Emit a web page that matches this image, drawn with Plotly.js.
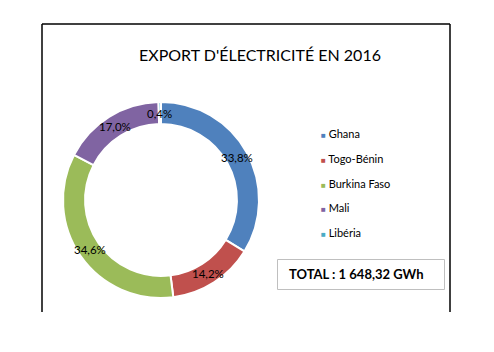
<!DOCTYPE html>
<html>
<head>
<meta charset="utf-8">
<script src="https://cdn.plot.ly/plotly-3.0.1.min.js"></script>
<style>html,body{margin:0;padding:0;background:#fff;}#chart{width:494px;height:352px;}</style>
</head>
<body>
<div id="chart"></div>
<script>
const categories = ['Ghana', 'Togo-Bénin', 'Burkina Faso', 'Mali', 'Libéria'];
const shares = [33.8, 14.2, 34.6, 17.0, 0.4];
const colors = ['#4F81BD', '#C0504D', '#9BBB59', '#8064A2', '#4BACC6'];
const chartTitle = "EXPORT D'ÉLECTRICITÉ EN 2016";
const totalText = 'TOTAL : 1 648,32 GWh';

const W = 494, H = 352;
const px = x => x / W;
const py = y => 1 - y / H;

// donut geometry (pixels)
const cx = 161, cy = 200, R = 98, hole = 0.775;

const font = 'Lato, "Open Sans", sans-serif';

const trace = {
  type: 'pie',
  labels: categories,
  values: shares,
  sort: false,
  direction: 'clockwise',
  rotation: 0,
  hole: hole,
  textinfo: 'none',
  hoverinfo: 'label+percent',
  marker: {colors: colors, line: {color: '#ffffff', width: 2}},
  domain: {x: [px(cx - R), px(cx + R)], y: [py(cy + R), py(cy - R)]},
  showlegend: false
};

const annotations = [];
// percentage labels at mid-ring, computed from data
const total = shares.reduce((a, b) => a + b, 0);
let cum = 0;
const rMid = R * (1 + hole) / 2;
shares.forEach((v, i) => {
  const mid = (cum + v / 2) / total * 2 * Math.PI;
  cum += v;
  const x = cx + rMid * Math.sin(mid);
  const y = cy - rMid * Math.cos(mid);
  annotations.push({
    xref: 'paper', yref: 'paper', x: px(x), y: py(y),
    xanchor: 'center', yanchor: 'middle', showarrow: false,
    text: (v / total * 100).toFixed(1).replace('.', ',') + '%',
    font: {family: font, size: 11.5, color: '#000'}
  });
});

// legend
categories.forEach((c, i) => {
  annotations.push({
    xref: 'paper', yref: 'paper', x: px(319), y: py(134 + i * 24.5),
    xanchor: 'left', yanchor: 'middle', showarrow: false,
    text: '<span style="color:' + colors[i] + '; font-size:8px">■</span> ' + c,
    font: {family: font, size: 11, color: '#000'}
  });
});

// total box
annotations.push({
  xref: 'paper', yref: 'paper', x: px(287), y: py(274),
  xanchor: 'left', yanchor: 'middle', showarrow: false,
  text: '<b>' + totalText + '</b>',
  font: {family: font, size: 13, color: '#000'}
});

const shapes = [
  {type: 'line', xref: 'paper', yref: 'paper', x0: px(42), x1: px(42), y0: py(24), y1: py(312), line: {color: '#000', width: 1.5}},
  {type: 'line', xref: 'paper', yref: 'paper', x0: px(42), x1: px(450), y0: py(24), y1: py(24), line: {color: '#000', width: 1.5}},
  {type: 'line', xref: 'paper', yref: 'paper', x0: px(450), x1: px(450), y0: py(24), y1: py(312), line: {color: '#000', width: 1.5}},
  {type: 'rect', xref: 'paper', yref: 'paper', x0: px(277.5), x1: px(444.5), y0: py(259.5), y1: py(289.5), line: {color: '#BFBFBF', width: 1}, fillcolor: 'rgba(0,0,0,0)'}
];

const layout = {
  width: W, height: H,
  margin: {l: 0, r: 0, t: 0, b: 0},
  paper_bgcolor: '#fff',
  showlegend: false,
  title: {
    text: chartTitle, xref: 'paper', yref: 'paper', x: px(260), y: py(55),
    xanchor: 'center', yanchor: 'middle',
    font: {family: font, size: 16, color: '#000'}
  },
  annotations: annotations,
  shapes: shapes
};

Plotly.newPlot('chart', [trace], layout, {displayModeBar: false, staticPlot: true});
</script>
</body>
</html>
